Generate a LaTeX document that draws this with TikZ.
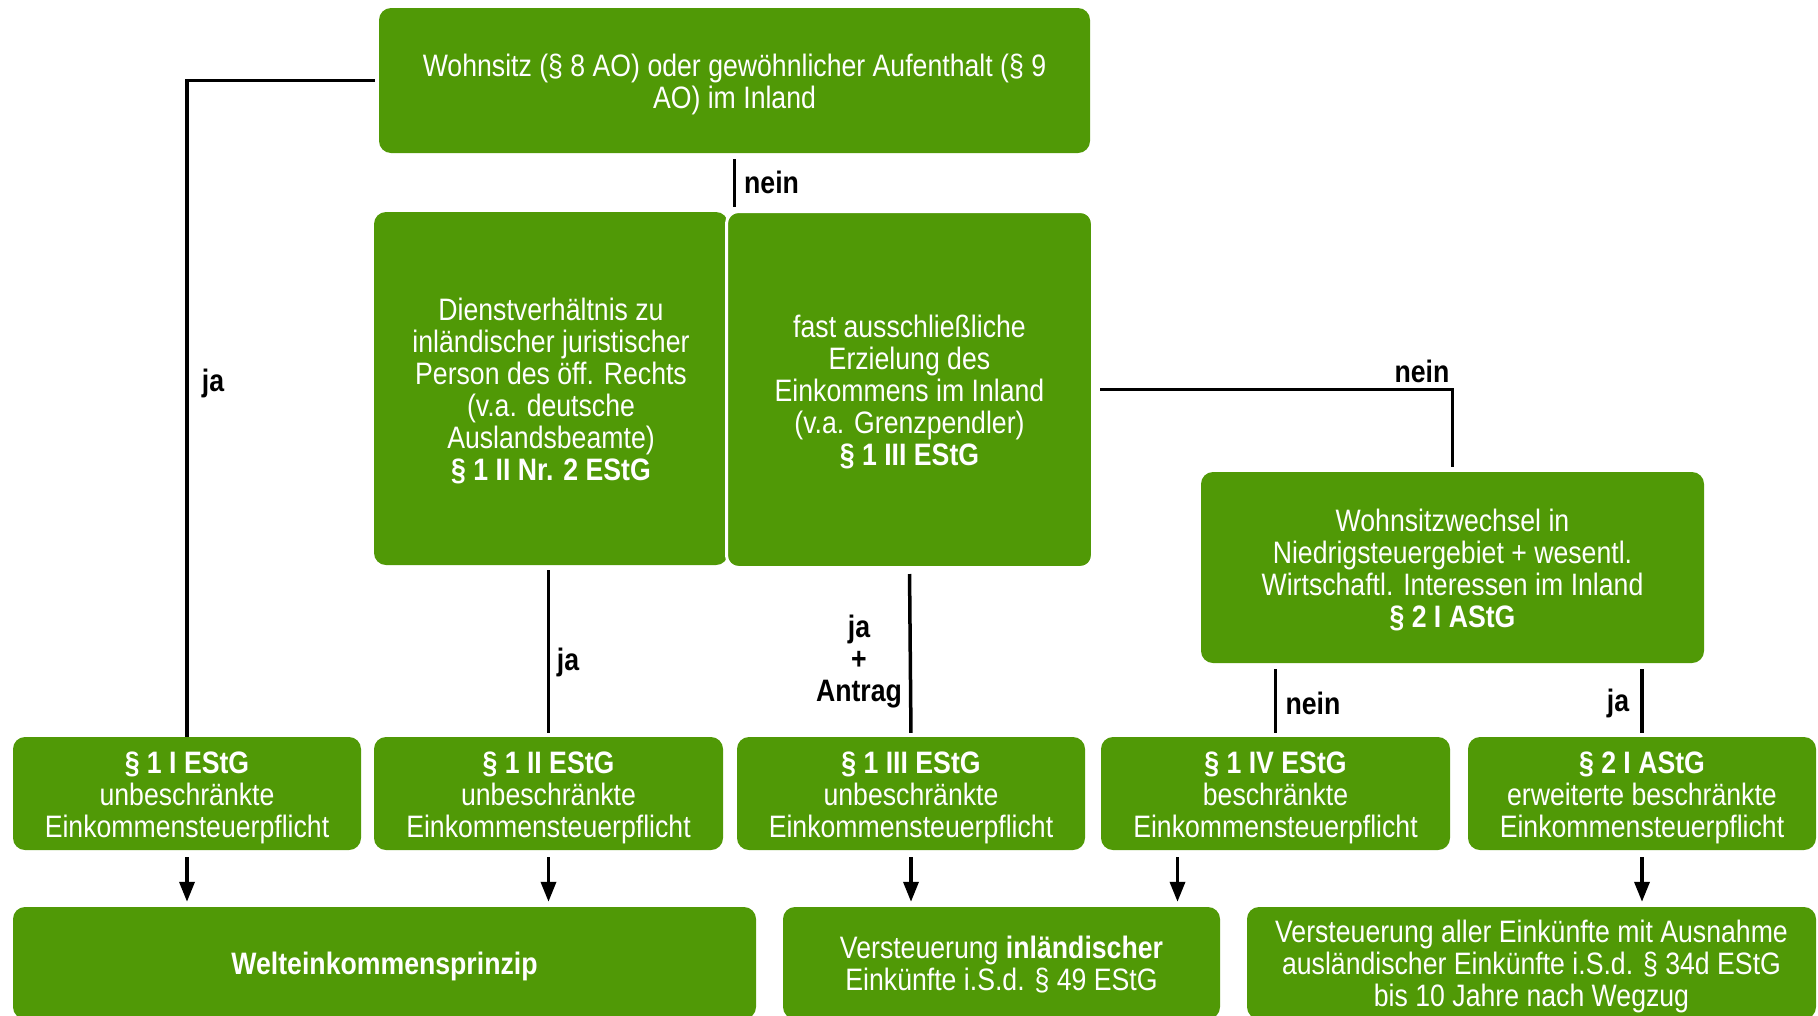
\documentclass[tikz,border=0pt]{standalone}
\usepackage{fontspec}
\setmainfont{Liberation Sans}[FakeStretch=0.86]
\usetikzlibrary{arrows.meta}
\definecolor{boxgreen}{RGB}{80,153,6}
\newcommand{\hiStrut}{\rule{0pt}{29.5pt}}
\newcommand{\loStrut}{\rule[-6.5pt]{0pt}{6.5pt}}
\begin{document}
\begin{tikzpicture}[
                x=1pt, y=-1pt,
                every node/.style={font=\fontsize{31}{32}\selectfont},
                box/.style={rectangle, rounded corners=12pt, fill=boxgreen, text=white, align=center, inner sep=0pt},
                lbl/.style={font=\fontsize{31}{32}\selectfont\bfseries, align=center, inner sep=0pt},
                link/.style={line width=3.5pt},
                down/.style={line width=3.5pt, -{Triangle[length=20pt,width=15pt]}, shorten <=7pt, shorten >=5pt}
            ]
                \useasboundingbox (0,0) rectangle (1818,1015);
                \clip (0,0) rectangle (1818,1015);
                \node [box, minimum width=711pt, minimum height=145pt] (top) at (734.5,80.5) {\hiStrut Wohnsitz (§ 8 AO) oder gewöhnlicher Aufenthalt (§ 9\\AO) im Inland\loStrut};
                \node [box, minimum width=354pt, minimum height=353pt] (dienst) at (551,388.5) {\hiStrut Dienstverhältnis zu\\inländischer juristischer\\Person des öff. Rechts\\(v.a. deutsche\\Auslandsbeamte)\\\textbf{§ 1 II Nr. 2 EStG}\loStrut};
                \node [box, draw=white, line width=3pt, minimum width=366pt, minimum height=356pt] (grenz) at (909.5,389.5) {\hiStrut fast ausschließliche\\Erzielung des\\Einkommens im Inland\\(v.a. Grenzpendler)\\\textbf{§ 1 III EStG}\loStrut};
                \node [box, minimum width=503pt, minimum height=191pt] (wechsel) at (1452.5,567.5) {\hiStrut Wohnsitzwechsel in\\Niedrigsteuergebiet + wesentl.\\Wirtschaftl. Interessen im Inland\\\textbf{§ 2 I AStG}\loStrut};
                \node [box, minimum width=348pt, minimum height=113pt] (r1) at (187,793.5) {\hiStrut\textbf{§ 1 I EStG}\\unbeschränkte\\Einkommensteuerpflicht\loStrut};
                \node [box, minimum width=349pt, minimum height=113pt] (r2) at (548.5,793.5) {\hiStrut\textbf{§ 1 II EStG}\\unbeschränkte\\Einkommensteuerpflicht\loStrut};
                \node [box, minimum width=348pt, minimum height=113pt] (r3) at (911,793.5) {\hiStrut\textbf{§ 1 III EStG}\\unbeschränkte\\Einkommensteuerpflicht\loStrut};
                \node [box, minimum width=349pt, minimum height=113pt] (r4) at (1275.5,793.5) {\hiStrut\textbf{§ 1 IV EStG}\\beschränkte\\Einkommensteuerpflicht\loStrut};
                \node [box, minimum width=348pt, minimum height=113pt] (r5) at (1642,793.5) {\hiStrut\textbf{§ 2 I AStG}\\erweiterte beschränkte\\Einkommensteuerpflicht\loStrut};
                \node [box, minimum width=743pt, minimum height=112pt] (b1) at (384.5,963) {\hiStrut\textbf{Welteinkommensprinzip}\loStrut};
                \node [box, minimum width=437pt, minimum height=112pt] (b2) at (1001.5,963) {\hiStrut Versteuerung \textbf{inländischer}\\Einkünfte i.S.d. § 49 EStG\loStrut};
                \node [box, minimum width=569pt, minimum height=112pt] (b3) at (1531.5,963) {\hiStrut Versteuerung aller Einkünfte mit Ausnahme\\ausländischer Einkünfte i.S.d. § 34d EStG\\bis 10 Jahre nach Wegzug\loStrut};
                \draw [link, shorten <=4pt] (top.west) -| (r1.north);
                \draw [link, shorten <=6pt, shorten >=3pt] (top.south) -- (top.south |- grenz.north);
                \draw [link, shorten <=6pt, shorten >=5pt] (grenz.east) -| (wechsel.north);
                \draw [link, shorten <=5pt, shorten >=4pt] (r2.north |- dienst.south) -- (r2.north);
                \draw [link, shorten <=5pt, shorten >=4pt] (grenz.south) -- (r3.north);
                \draw [link, shorten <=6pt, shorten >=4pt] (r4.north |- wechsel.south) -- (r4.north);
                \draw [link, shorten <=6pt, shorten >=4pt] (r5.north |- wechsel.south) -- (r5.north);
                \draw [down] (r1.south) -- (r1.south |- b1.north);
                \draw [down] (r2.south) -- (r2.south |- b1.north);
                \draw [down] (r3.south) -- (r3.south |- b2.north);
                \draw [down] ([xshift=-98pt]r4.south) -- ([xshift=-98pt]r4.south |- b2.north);
                \draw [down] (r5.south) -- (r5.south |- b3.north);
                \node [lbl, anchor=west] (l1) at (744,182) {nein};
                \node [lbl] (l2) at (213,383) {ja};
                \node [lbl] (l3) at (1422,371) {nein};
                \node [lbl] (l4) at (568,662) {ja};
                \node [lbl] (l5) at (859,662) {ja\\+\\Antrag};
                \node [lbl] (l6) at (1313,703) {nein};
                \node [lbl] (l7) at (1618,703) {ja};
            \end{tikzpicture}
\end{document}
